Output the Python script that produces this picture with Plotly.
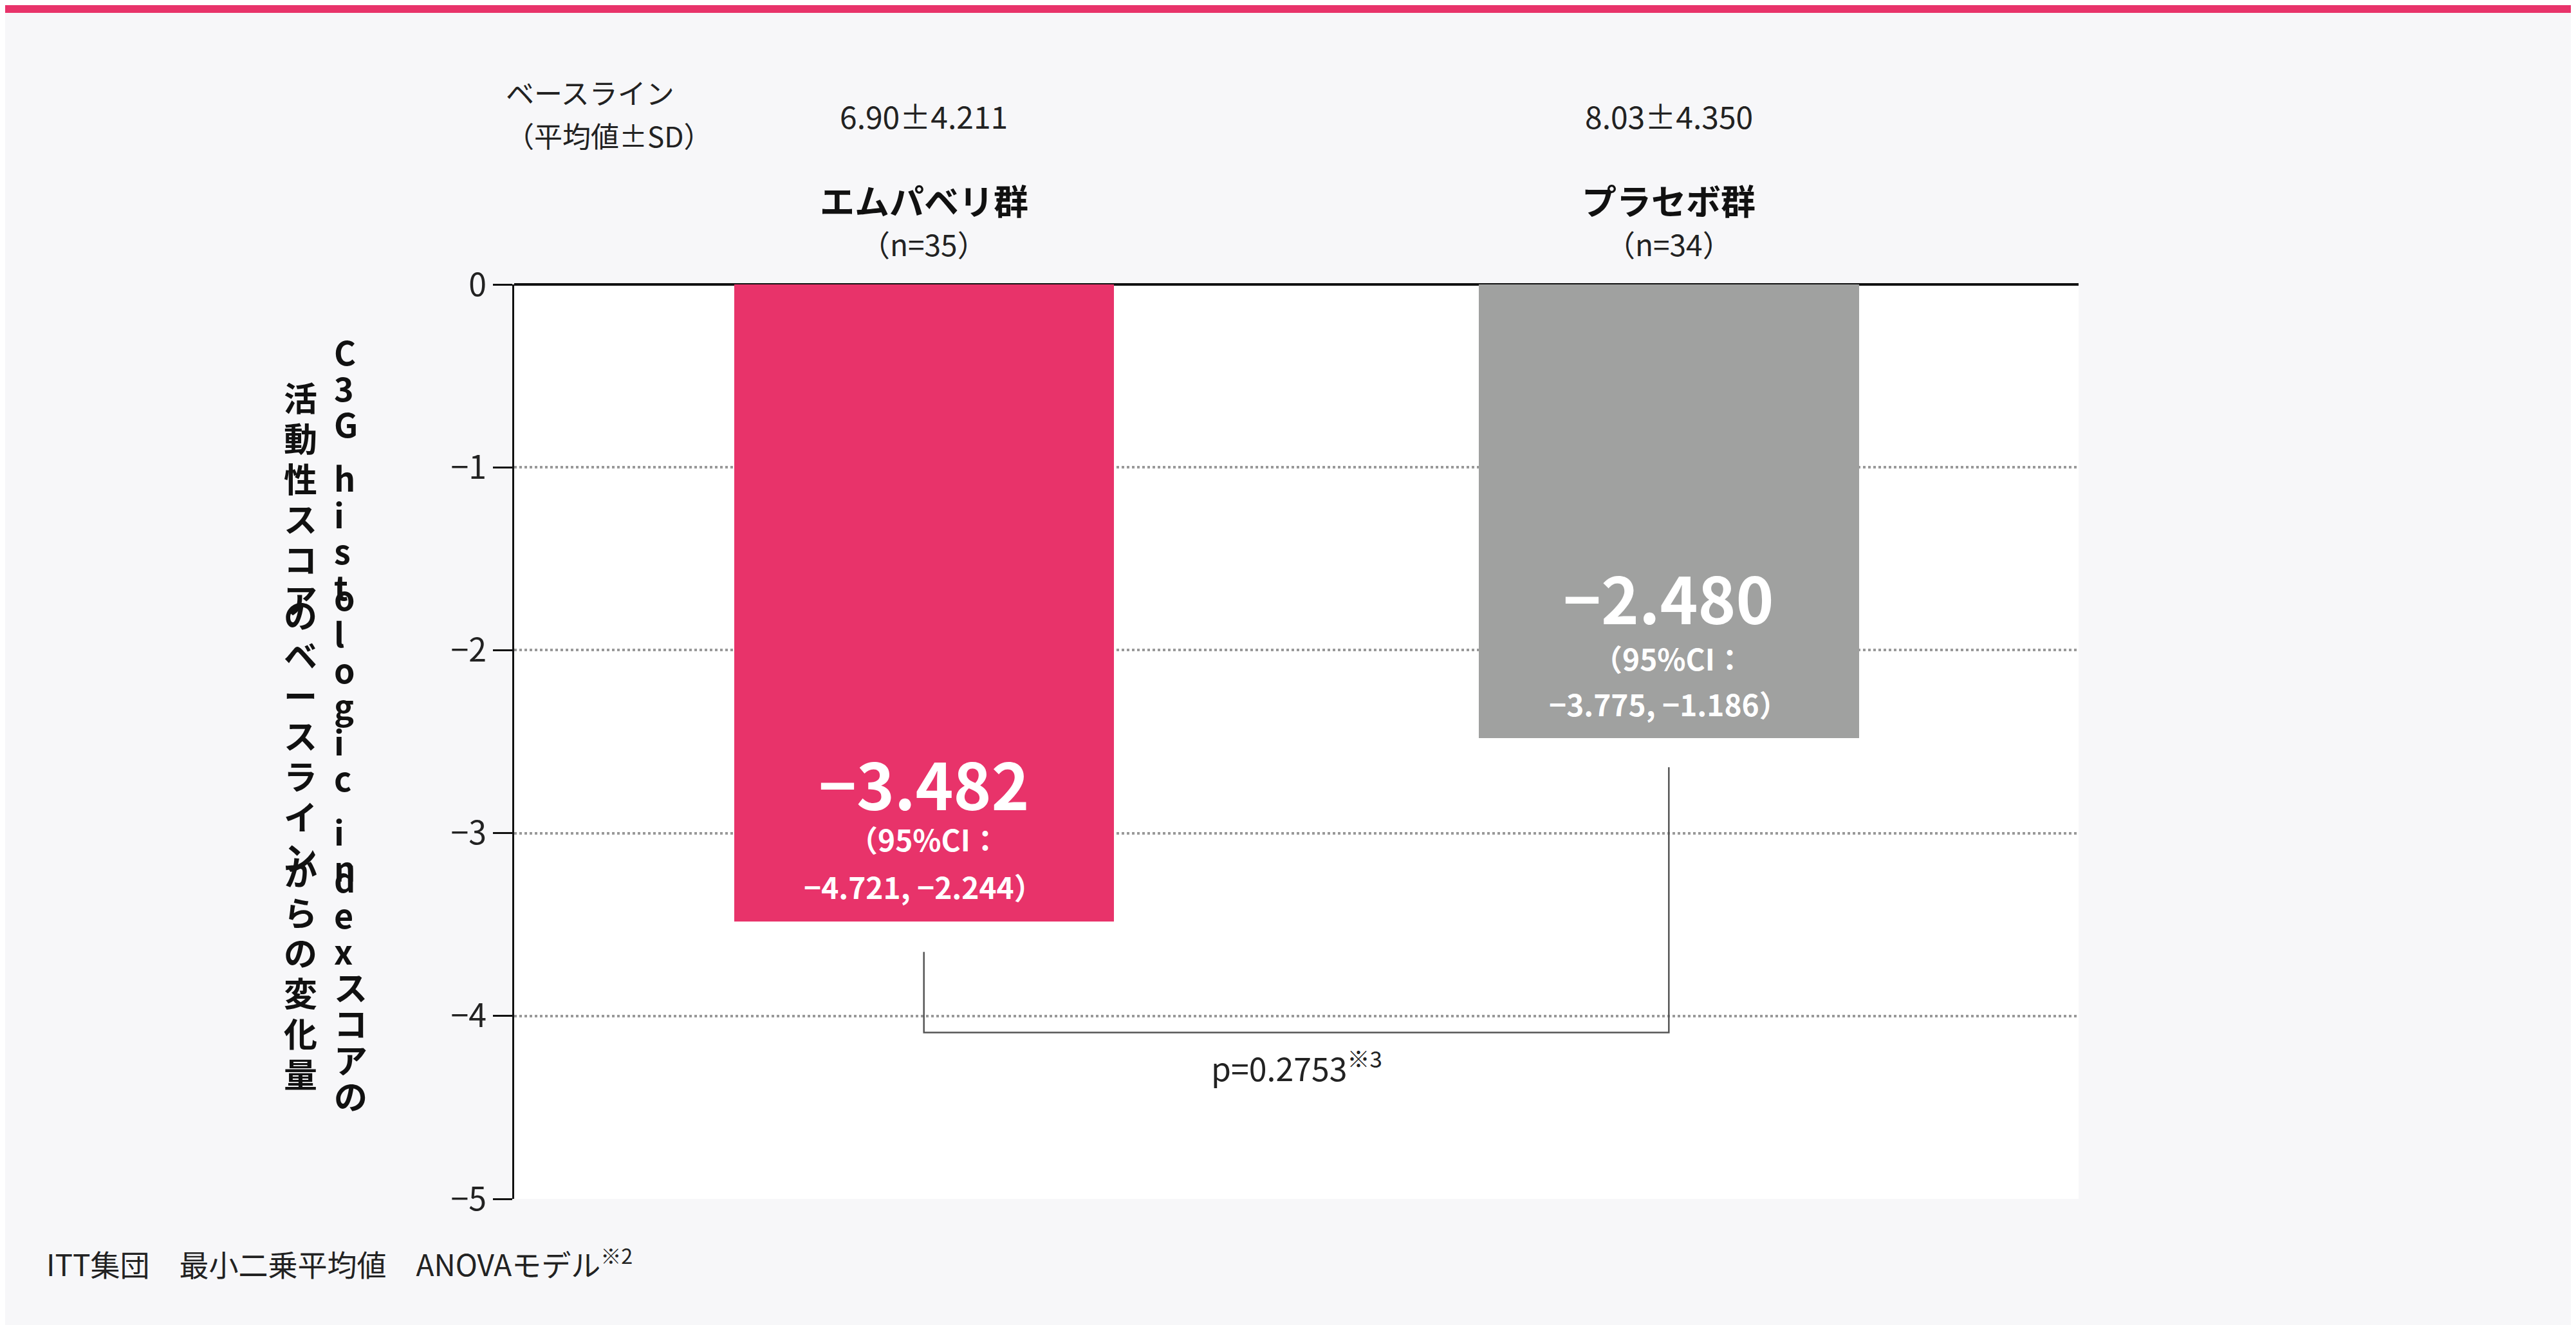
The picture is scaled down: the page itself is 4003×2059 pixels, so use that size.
import plotly.graph_objects as go

groups = ["エムパベリ群", "プラセボ群"]
group_n = ["（n=35）", "（n=34）"]
baseline = ["6.90±4.211", "8.03±4.350"]
change = [-3.482, -2.480]
value_text = ["−3.482", "−2.480"]
ci_text = ["（95%CI：", "（95%CI："]
ci_range = ["−4.721, −2.244）", "−3.775, −1.186）"]
bar_colors = ["#e8336a", "#a0a1a0"]
tick_vals = [0, -1, -2, -3, -4, -5]
tick_text = ["0", "−1", "−2", "−3", "−4", "−5"]
p_text = "p=0.2753<sup>※3</sup>"
ytitle_cols = ["C3G histologic indexスコアの", "活動性スコアのベースラインからの変化量"]
footnote = "ITT集団　最小二乗平均値　ANOVAモデル<sup>※2</sup>"

FONT = "Noto Sans CJK JP"
x = [0, 1]

fig = go.Figure()
fig.add_bar(x=x, y=change, width=0.51, marker_color=bar_colors,
            marker_line_width=0, showlegend=False, hoverinfo="skip")
# bracket
fig.add_scatter(x=[0, 0, 1, 1], y=[-3.65, -4.09, -4.09, -2.64], mode="lines",
                line=dict(color="#555555", width=2.5), showlegend=False, hoverinfo="skip")

ann = []
label_y = [(-2.72, -3.03, -3.29), (-1.705, -2.04, -2.29)]
for i in range(2):
    y1, y2, y3 = label_y[i]
    ann.append(dict(x=x[i], y=y1, text="<b>" + value_text[i] + "</b>", font=dict(size=100, color="white")))
    ann.append(dict(x=x[i], y=y2, text="<b>" + ci_text[i] + "</b>", font=dict(size=46, color="white")))
    ann.append(dict(x=x[i], y=y3, text="<b>" + ci_range[i] + "</b>", font=dict(size=46, color="white")))
    ann.append(dict(x=x[i], y=1.211, yref="paper", text=baseline[i], font=dict(size=48, color="#222")))
    ann.append(dict(x=x[i], y=1.122, yref="paper", text="<b>" + groups[i] + "</b>", font=dict(size=54, color="#111")))
    ann.append(dict(x=x[i], y=1.07, yref="paper", text=group_n[i], font=dict(size=46, color="#222")))

ann.append(dict(x=0.5, y=-4.27, text=p_text, font=dict(size=50, color="#222")))
ann.append(dict(x=-0.006, y=1.234, xref="paper", yref="paper", text="ベースライン", font=dict(size=44, color="#222")))
ann.append(dict(x=-0.006, y=1.187, xref="paper", yref="paper", text="（平均値±SD）", font=dict(size=44, color="#222")))
ann.append(dict(x=-0.3, y=-0.095, xref="paper", yref="paper", xanchor="left", text=footnote,
                font=dict(size=46, color="#222")))

# vertical y-axis title, one character per annotation
col_x = [-0.116, -0.148]
col_start = [0.955, 0.905]
col_step = [22.0 / 557, 24.6 / 557]
for c, txt in enumerate(ytitle_cols):
    pos = col_start[c]
    for ch in txt:
        if ch == " ":
            pos -= col_step[c] * 0.5
            continue
        ann.append(dict(x=col_x[c], y=pos, xref="paper", yref="paper",
                        text="<b>" + ch + "</b>", font=dict(size=52, color="#111")))
        pos -= col_step[c]

for a in ann:
    a.setdefault("xref", "x")
    a.setdefault("yref", "y")
    a["showarrow"] = False

fig.update_layout(
    width=4003, height=2059,
    margin=dict(l=791, r=781, t=434, b=204),
    paper_bgcolor="#f7f7f9", plot_bgcolor="white",
    font=dict(family=FONT, color="#222"),
    annotations=ann, bargap=0,
    shapes=[dict(type="rect", xref="paper", yref="paper", x0=-0.34, x1=1.34, y0=1.297, y1=1.31,
                 fillcolor="#e8336a", line_width=0)],
)
fig.update_xaxes(range=[-0.55, 1.55], showticklabels=False, showgrid=False, zeroline=False,
                 showline=False, fixedrange=True)
fig.update_yaxes(range=[-5, 0], tickvals=tick_vals, ticktext=tick_text,
                 tickfont=dict(size=50, color="#222"), ticks="outside", ticklen=30, tickwidth=3,
                 tickcolor="#111", showline=True, linecolor="#111", linewidth=3,
                 showgrid=True, gridcolor="#999999", gridwidth=4, griddash="dot",
                 zeroline=True, zerolinecolor="#111", zerolinewidth=4)

fig.write_html("out.html")
